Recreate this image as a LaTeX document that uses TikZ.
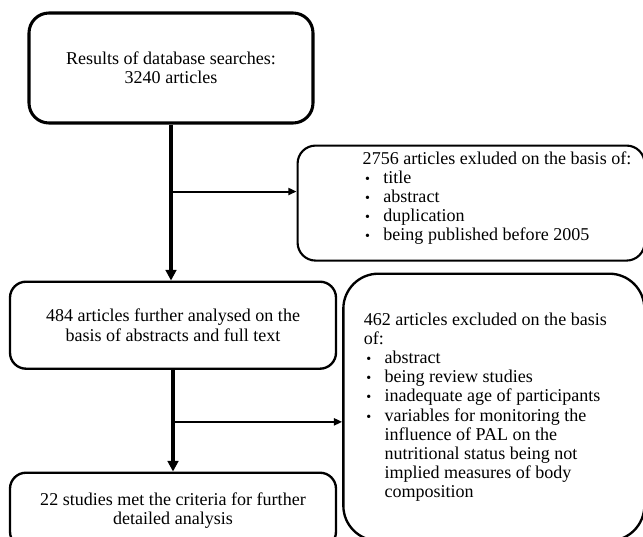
\documentclass[tikz,border=0pt]{standalone}
\usepackage{fontspec}
\setmainfont{Liberation Serif}
\usepackage{enumitem}
\usepackage{tikz}
\usetikzlibrary{arrows.meta,positioning}

\setlist[itemize]{nosep, leftmargin=0.62cm, labelsep=0.4cm,
    label={\fontsize{12pt}{12pt}\selectfont\textbullet}}

\begin{document}
\begin{tikzpicture}[
          every node/.style={draw, line width=2pt, rounded corners=0.48cm, inner sep=0pt,
              font=\fontsize{15.4pt}{16.4pt}\selectfont},
          stage/.style={align=center, minimum width=9.78cm, minimum height=2.61cm},
          flow/.style={-{Triangle[length=9pt,width=9pt]}, line width=2.6pt},
          branch/.style={-{Triangle[length=7pt,width=6pt]}, line width=1.7pt},
        ]
            \useasboundingbox (0,0) rectangle (19.29,-16.08);
            \draw node[line width=2.6pt, rounded corners=0.6cm, align=center, minimum width=8.52cm,
                minimum height=3.3cm] (search) at (5.13,-2.04)
                {Results of database searches:\\ 3240 articles};
            \draw node[line width=1.8pt, rounded corners=0.54cm, minimum width=10.41cm, minimum height=3.45cm,
                below=0.6cm of search.south east, anchor=north west, xshift=-0.54cm] (exclfirst)
                {\hspace*{1.6cm}\begin{minipage}{8.1cm}
                    2756 articles exluded on the basis of:
                    \begin{itemize}
                        \item title
                        \item abstract
                        \item duplication
                        \item being published before 2005
                    \end{itemize}
                    \par\kern0.3cm
                \end{minipage}};
            \draw node[stage, below=4.68cm of search, xshift=0.06cm] (screen)
                {484 articles further analysed on the\\ basis of abstracts and full text};
            \draw node[stage, minimum height=2.25cm, below=3.05cm of screen] (included)
                {22 studies met the criteria for further\\ detailed analysis};
            \draw node[rounded corners=1.05cm, minimum width=9.03cm, minimum height=8.01cm,
                right=0.15cm of screen.north east, anchor=north west, yshift=0.24cm] (exclsecond)
                {\begin{minipage}{7.8cm}
                    462 articles excluded on the basis\\ of:
                    \begin{itemize}
                        \item abstract
                        \item being review studies
                        \item inadequate age of participants
                        \item variables for monitoring the\\ influence of PAL on the\\
                            nutritional status being not\\ implied measures of body\\ composition
                    \end{itemize}
                \end{minipage}};
            \coordinate (cut1) at ([yshift=-2.01cm]search.south);
            \coordinate (cut2) at ([yshift=-1.56cm]screen.south);
            \draw[flow] (search.south) -- (search.south |- screen.north);
            \draw[branch] (cut1) -- (cut1 -| exclfirst.west);
            \draw[flow] (screen.south) -- (included.north);
            \draw[branch] (cut2) -- (cut2 -| exclsecond.west);

\end{tikzpicture}
\end{document}
